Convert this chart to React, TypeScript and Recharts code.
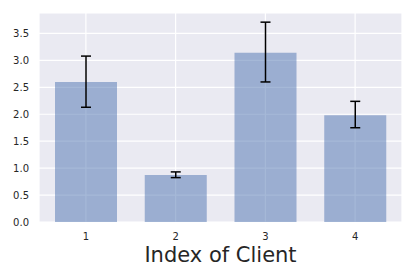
import { BarChart, Bar, XAxis, YAxis, CartesianGrid, ErrorBar } from "recharts";

const clients = ["1", "2", "3", "4"];
const means = [2.6, 0.874, 3.14, 1.98];
const errLow = [0.47, 0.05, 0.54, 0.23];
const errHigh = [0.48, 0.056, 0.57, 0.26];
const yTicks = [0, 0.5, 1, 1.5, 2, 2.5, 3, 3.5];

const data = clients.map((c, i) => ({
  client: c,
  value: means[i],
  err: [errLow[i], errHigh[i]],
}));

const FONT = "DejaVu Sans, sans-serif";
const INK = "#262626";

export default function App() {
  return (
    <div style={{ position: "absolute", left: 0, top: 0, fontFamily: FONT }}>
      <BarChart
        width={415}
        height={277}
        data={data}
        margin={{ top: 13, right: 13, left: 0, bottom: 0 }}
      >
        <CartesianGrid fill="#eaeaf2" stroke="#ffffff" strokeWidth={1.2} />
        <XAxis
          dataKey="client"
          height={55}
          padding={{ left: 2, right: 2 }}
          axisLine={false}
          tickLine={false}
          tickSize={0}
          tickMargin={11}
          tick={{ fontSize: 10, fill: INK, fontFamily: FONT }}
          label={{
            value: "Index of Client",
            position: "insideBottom",
            offset: 15,
            fontSize: 21,
            fill: INK,
            fontFamily: FONT,
          }}
        />
        <YAxis
          width={39}
          domain={[0, 3.88]}
          ticks={yTicks}
          tickFormatter={(v: number) => v.toFixed(1)}
          axisLine={false}
          tickLine={false}
          tickSize={0}
          tickMargin={10}
          tick={{ fontSize: 10, fill: INK, fontFamily: FONT }}
        />
        <Bar
          dataKey="value"
          fill="#4c72b0"
          fillOpacity={0.5}
          barSize={62}
          isAnimationActive={false}
        >
          <ErrorBar dataKey="err" width={5} stroke="#000000" strokeWidth={1.5} />
        </Bar>
      </BarChart>
    </div>
  );
}
